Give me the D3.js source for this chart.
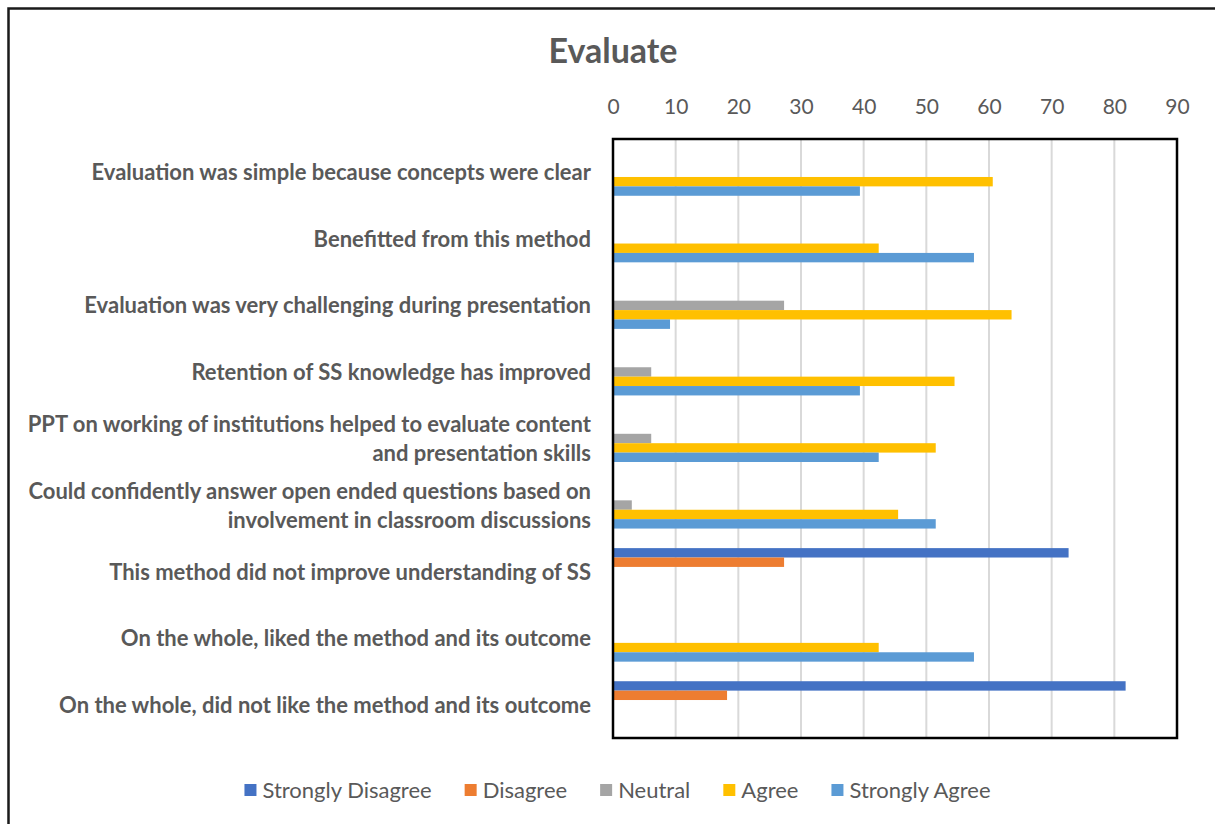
<!DOCTYPE html>
<html>
<head>
<meta charset="utf-8">
<script src="https://cdn.jsdelivr.net/npm/d3@7"></script>
<style>
  body { margin: 0; background: #fff; }
  svg { display: block; }
  text { font-family: Lato, "Open Sans", sans-serif; fill: #595959; }
</style>
</head>
<body>
<svg id="chart" width="1215" height="824"></svg>
<script>
// Survey statements (top to bottom) and the share of responses (%) per option
const categories = [
  "Evaluation was simple because concepts were clear",
  "Benefitted from this method",
  "Evaluation was very challenging during presentation",
  "Retention of SS knowledge has improved",
  "PPT on working of institutions helped to evaluate content and presentation skills",
  "Could confidently answer open ended questions based on involvement in classroom discussions",
  "This method did not improve understanding of SS",
  "On the whole, liked the method and its outcome",
  "On the whole, did not like the method and its outcome"
];
const seriesNames = ["Strongly Disagree", "Disagree", "Neutral", "Agree", "Strongly Agree"];
const stronglyDisagree = [0, 0, 0, 0, 0, 0, 72.7, 0, 81.8];
const disagree         = [0, 0, 0, 0, 0, 0, 27.3, 0, 18.2];
const neutral          = [0, 0, 27.3, 6.1, 6.1, 3.0, 0, 0, 0];
const agree            = [60.6, 42.4, 63.6, 54.5, 51.5, 45.5, 0, 42.4, 0];
const stronglyAgree    = [39.4, 57.6, 9.1, 39.4, 42.4, 51.5, 0, 57.6, 0];
const seriesColors = ["#4472C4", "#ED7D31", "#A5A5A5", "#FFC000", "#5B9BD5"];
const xTicks = [0, 10, 20, 30, 40, 50, 60, 70, 80, 90];
const chartTitle = "Evaluate";

const seriesValues = [stronglyDisagree, disagree, neutral, agree, stronglyAgree];

const svg = d3.select("#chart");
const W = 1215, H = 824;
const margin = { top: 139, right: 38, bottom: 86, left: 613 };
const plotW = W - margin.left - margin.right;
const plotH = H - margin.top - margin.bottom;

// outer chart frame (runs off the right and bottom edges)
svg.append("rect")
  .attr("x", 8.5).attr("y", 8.5)
  .attr("width", W + 20).attr("height", H + 20)
  .attr("fill", "#fff").attr("stroke", "#1a1a1a").attr("stroke-width", 2.5);

const x = d3.scaleLinear().domain([0, 90]).range([0, plotW]);
const y = d3.scaleBand().domain(categories).range([0, plotH])
  .paddingInner(0.294).paddingOuter(0.147);
const ySub = d3.scaleBand().domain(seriesNames).range([0, y.bandwidth()]);

const g = svg.append("g").attr("transform", `translate(${margin.left},${margin.top})`);

// vertical gridlines
g.append("g").selectAll("line")
  .data(xTicks.filter(t => t > 0 && t < 90))
  .join("line")
  .attr("x1", d => x(d)).attr("x2", d => x(d))
  .attr("y1", 0).attr("y2", plotH)
  .attr("stroke", "#d9d9d9").attr("stroke-width", 2);

// bars
seriesNames.forEach((name, si) => {
  g.append("g").selectAll("rect")
    .data(categories.map((c, i) => ({ c, v: seriesValues[si][i] })))
    .join("rect")
    .attr("x", x(0))
    .attr("y", d => y(d.c) + ySub(name))
    .attr("width", d => x(d.v) - x(0))
    .attr("height", ySub.bandwidth())
    .attr("fill", seriesColors[si]);
});

// plot area border
g.append("rect")
  .attr("x", 0).attr("y", 0).attr("width", plotW).attr("height", plotH)
  .attr("fill", "none").attr("stroke", "#000").attr("stroke-width", 2.5);

// value axis along the top
const xAxis = g.append("g")
  .call(d3.axisTop(x).tickValues(xTicks).tickSize(0).tickPadding(25));
xAxis.select(".domain").remove();
xAxis.selectAll("text")
  .style("font-family", "Lato, sans-serif")
  .style("font-size", "21px")
  .attr("fill", "#595959");

// category axis with wrapped labels
const yAxis = g.append("g")
  .call(d3.axisLeft(y).tickSize(0).tickPadding(22));
yAxis.select(".domain").remove();
const labelWidth = 580;
yAxis.selectAll(".tick text")
  .style("font-family", "Lato, sans-serif")
  .style("font-size", "22px")
  .style("font-weight", "bold")
  .attr("fill", "#595959")
  .each(function (d) {
    const t = d3.select(this);
    const words = d.split(" ");
    const xPos = t.attr("x");
    t.text(null);
    let lines = [], line = [];
    const probe = t.append("tspan");
    words.forEach(w => {
      line.push(w);
      probe.text(line.join(" "));
      if (probe.node().getComputedTextLength() > labelWidth && line.length > 1) {
        line.pop();
        lines.push(line.join(" "));
        line = [w];
      }
    });
    lines.push(line.join(" "));
    probe.remove();
    const lh = 29;
    const y0 = -(lines.length - 1) * lh / 2;
    lines.forEach((ln, i) => {
      t.append("tspan").attr("x", xPos).attr("y", y0 + i * lh + 1).attr("dy", "0.32em").text(ln);
    });
  });

// title
svg.append("text")
  .attr("x", 613).attr("y", 63)
  .attr("text-anchor", "middle")
  .style("font-size", "34px").style("font-weight", "bold")
  .text(chartTitle);

// legend, centred below the plot
const legend = svg.append("g").attr("transform", "translate(0,790)");
const items = legend.selectAll("g").data(seriesNames).join("g");
items.append("rect").attr("width", 12).attr("height", 12).attr("y", -6)
  .attr("fill", (d, i) => seriesColors[i]);
items.append("text").attr("x", 18).attr("dy", "0.35em")
  .style("font-size", "22px").text(d => d);
let cursor = 0;
const widths = [];
items.each(function () { widths.push(this.getBBox().width); });
const gap = 33;
const total = d3.sum(widths) + gap * (widths.length - 1);
cursor = 617.5 - total / 2;
items.attr("transform", (d, i) => {
  const tx = cursor;
  cursor += widths[i] + gap;
  return `translate(${tx},0)`;
});
</script>
</body>
</html>
